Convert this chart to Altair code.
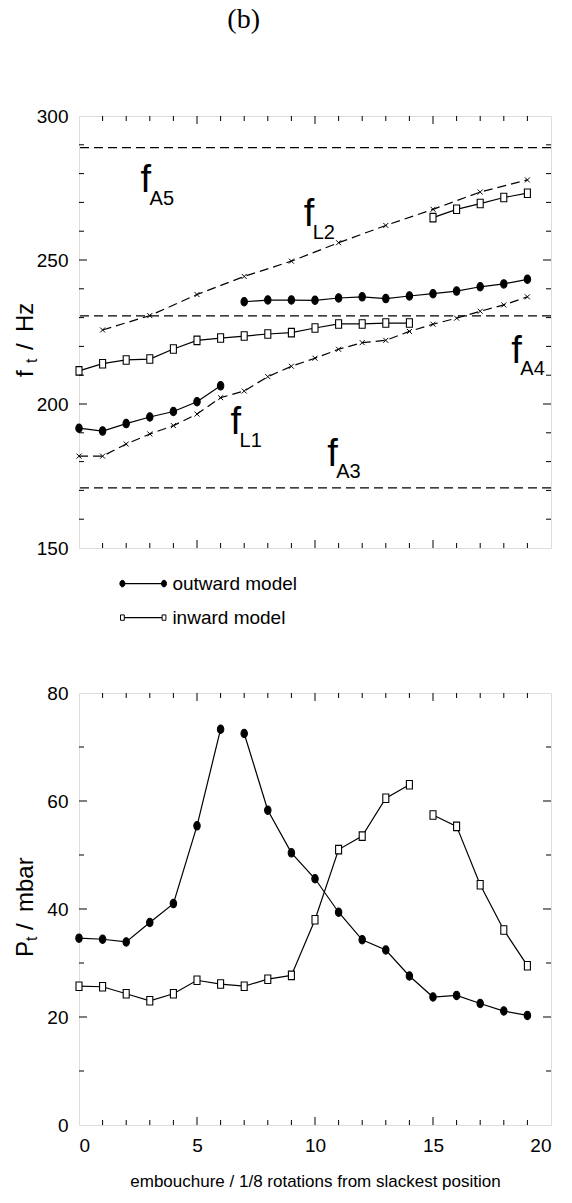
import altair as alt
import pandas as pd

# embouchure setting: 1/8 rotations from the slackest position
steps = list(range(20))

# upper panel: transition frequencies f_t (Hz)
out_f_low = [191.6, 190.6, 193.2, 195.5, 197.4, 200.8, 206.3]                       # steps 0-6
out_f_high = [235.5, 236.1, 236.1, 236.0, 236.8, 237.2, 236.6, 237.5, 238.3,
              239.2, 240.7, 241.7, 243.3]                                            # steps 7-19
in_f_low = [211.5, 214.0, 215.3, 215.6, 219.1, 222.1, 222.9, 223.6, 224.3, 224.8,
            226.4, 227.8, 227.8, 228.1, 228.1]                                       # steps 0-14
in_f_high = [264.7, 267.6, 269.6, 271.7, 273.2]                                      # steps 15-19
lip_f1 = [181.9, 181.9, 186.1, 189.6, 192.5, 196.5, 202.2, 204.5, 209.5, 213.1,
          215.9, 219.0, 221.3, 222.1, 225.2, 227.7, 229.8, 232.2, 234.4, 237.2]
lip_f2_steps = [1, 3, 5, 7, 9, 11, 13, 15, 17, 19]
lip_f2 = [225.7, 230.7, 238.0, 244.3, 249.6, 256.0, 262.0, 267.6, 273.6, 277.8]
air_modes = ["A3", "A4", "A5"]
air_f = [170.9, 230.6, 289.0]

# curve annotations: f with a subscript
note_subs = ["A5", "L2", "L1", "A3", "A4"]
note_x = [2.61, 9.52, 6.42, 10.52, 18.32]
note_y = [273.5, 261.7, 189.5, 178.5, 214.4]

# lower panel: threshold pressure P_t (mbar)
out_p_low = [34.6, 34.4, 33.9, 37.5, 41.0, 55.4, 73.3]
out_p_high = [72.5, 58.3, 50.4, 45.6, 39.4, 34.3, 32.4, 27.6, 23.7, 24.0, 22.5, 21.1, 20.3]
in_p_low = [25.7, 25.6, 24.3, 23.0, 24.3, 26.8, 26.1, 25.7, 27.0, 27.7, 38.0, 51.0,
            53.5, 60.5, 63.0]
in_p_high = [57.4, 55.3, 44.5, 36.1, 29.5]

# tick marks (drawn inward)
x_minor = [i for i in range(1, 20) if i % 5]
x_major = [5, 10, 15]
f_minor = [160, 170, 180, 190, 210, 220, 230, 240, 260, 270, 280, 290]
f_major = [200, 250]
p_minor = [10, 30, 50, 70]
p_major = [20, 40, 60]

SANS = "Liberation Sans, Arial, Helvetica, sans-serif"
SERIF = "Liberation Serif, Times New Roman, serif"

W, H = 472, 432
ELLIPSE = "M0,-1.05A0.8,1.05,0,1,1,0,1.05A0.8,1.05,0,1,1,0,-1.05Z"
RECT = "M-0.6,-0.85H0.6V0.85H-0.6Z"
XMARK = "M-1,-1L1,1M-1,1L1,-1"
DASH = [9, 5]


def segments(parts):
    rows = []
    for seg, (xs, ys) in enumerate(parts):
        for x, y in zip(xs, ys):
            rows.append({"x": x, "y": y, "seg": seg})
    return pd.DataFrame(rows)


def model_layers(df, X, Y, shape, fill, size):
    line = alt.Chart(df).mark_line(color="black", strokeWidth=1.2).encode(
        x=X, y=Y, detail="seg:N")
    pts = alt.Chart(df).mark_point(shape=shape, size=size, fill=fill, stroke="black",
                                   strokeWidth=1.1, opacity=1, fillOpacity=1).encode(x=X, y=Y)
    return [line, pts]


def tick_layers(xvals_minor, xvals_major, yvals_minor, yvals_major, X, Y):
    out = []
    for vals, ln in ((xvals_minor, 5), (xvals_major, 8)):
        d = pd.DataFrame({"x": vals})
        out.append(alt.Chart(d).mark_rule(color="black", strokeWidth=1).encode(
            x=X, y=alt.value(0), y2=alt.value(ln)))
        out.append(alt.Chart(d).mark_rule(color="black", strokeWidth=1).encode(
            x=X, y=alt.value(H), y2=alt.value(H - ln)))
    for vals, ln in ((yvals_minor, 5), (yvals_major, 8)):
        d = pd.DataFrame({"y": vals})
        out.append(alt.Chart(d).mark_rule(color="black", strokeWidth=1).encode(
            y=Y, x=alt.value(0), x2=alt.value(ln)))
        out.append(alt.Chart(d).mark_rule(color="black", strokeWidth=1).encode(
            y=Y, x=alt.value(W), x2=alt.value(W - ln)))
    return out


def label(text, x, y, size, font=SANS, **kw):
    return alt.Chart(pd.DataFrame({"t": [text]})).mark_text(
        fontSize=size, font=font, color="black", **kw).encode(
        x=alt.value(x), y=alt.value(y), text="t:N")


def vtitle(pieces):
    # rotated axis title assembled piece by piece (main text + subscript)
    out = []
    for text, x, y, size in pieces:
        out.append(label(text, x, y, size, angle=270, align="left",
                         baseline="alphabetic"))
    return out


# ---------------- upper panel ----------------
X_TOP = alt.X("x:Q", scale=alt.Scale(domain=[0, 20], nice=False), axis=None)
Y_TOP = alt.Y("y:Q", scale=alt.Scale(domain=[150, 300], nice=False, zero=False),
              axis=alt.Axis(values=[150, 200, 250, 300], ticks=False, domain=False,
                            grid=False, labelPadding=11, title=None, labelFont=SANS,
                            labelFontSize=19, labelColor="black"))

air_df = pd.DataFrame({"mode": air_modes, "y": air_f})
f1_df = pd.DataFrame({"x": steps, "y": lip_f1})
f2_df = pd.DataFrame({"x": lip_f2_steps, "y": lip_f2})
out_f_df = segments([(steps[:7], out_f_low), (steps[7:], out_f_high)])
in_f_df = segments([(steps[:15], in_f_low), (steps[15:], in_f_high)])
note_df = pd.DataFrame({"x": note_x, "y": note_y, "sub": note_subs, "f": ["f"] * 5})

top_layers = [
    alt.Chart(air_df).mark_rule(color="black", strokeWidth=1.3, strokeDash=DASH).encode(y=Y_TOP),
    alt.Chart(f1_df).mark_line(color="black", strokeWidth=1.2, strokeDash=DASH).encode(x=X_TOP, y=Y_TOP),
    alt.Chart(f2_df).mark_line(color="black", strokeWidth=1.2, strokeDash=DASH).encode(x=X_TOP, y=Y_TOP),
    alt.Chart(f1_df).mark_point(shape=XMARK, size=25, stroke="black", strokeWidth=1,
                                filled=False, opacity=1).encode(x=X_TOP, y=Y_TOP),
    alt.Chart(f2_df).mark_point(shape=XMARK, size=25, stroke="black", strokeWidth=1,
                                filled=False, opacity=1).encode(x=X_TOP, y=Y_TOP),
]
top_layers += model_layers(out_f_df, X_TOP, Y_TOP, ELLIPSE, "black", 64)
top_layers += model_layers(in_f_df, X_TOP, Y_TOP, RECT, "white", 100)
top_layers += tick_layers(x_minor, x_major, f_minor, f_major, X_TOP, Y_TOP)
top_layers += [
    alt.Chart(note_df).mark_text(font=SANS, fontSize=38, align="left",
                                 baseline="alphabetic", color="black").encode(
        x=X_TOP, y=Y_TOP, text="f:N"),
    alt.Chart(note_df).mark_text(font=SANS, fontSize=20, align="left",
                                 baseline="alphabetic", color="black", dx=9, dy=12.5).encode(
        x=X_TOP, y=Y_TOP, text="sub:N"),
]
# legend drawn below the upper panel
leg = pd.DataFrame({"k": [0]})
for yy, shape, fill, size, name in ((467.6, ELLIPSE, "black", 40, "outward model"),
                                    (501.6, RECT, "white", 40, "inward model")):
    top_layers.append(alt.Chart(leg).mark_rule(color="black", strokeWidth=1.2).encode(
        x=alt.value(43.4), x2=alt.value(85), y=alt.value(yy)))
    for xx in (43.4, 85):
        top_layers.append(alt.Chart(leg).mark_point(
            shape=shape, size=size, fill=fill, stroke="black", strokeWidth=1,
            opacity=1, fillOpacity=1).encode(x=alt.value(xx), y=alt.value(yy)))
    top_layers.append(label(name, 93.4, yy, 19, align="left", baseline="middle"))
top_layers += vtitle([("f", -46, 261, 24), ("t", -42, 247, 16), ("/", -46, 234, 24),
                      ("Hz", -46, 216, 24)])
top_layers.append(label("(b)", 164.7, -95.7, 28, font=SERIF, align="center",
                        baseline="middle"))

top = alt.layer(*top_layers).properties(width=W, height=H)

# ---------------- lower panel ----------------
X_BOT = alt.X("x:Q", scale=alt.Scale(domain=[0, 20], nice=False),
              axis=alt.Axis(values=[0, 5, 10, 15, 20], ticks=False, domain=False,
                            grid=False, labelPadding=11, labelFont=SANS,
                            labelFontSize=19, labelColor="black",
                            title="embouchure / 1/8 rotations from slackest position",
                            titleFont=SANS, titleFontSize=17, titleFontWeight="normal",
                            titleColor="black", titlePadding=18))
Y_BOT = alt.Y("y:Q", scale=alt.Scale(domain=[0, 80], nice=False),
              axis=alt.Axis(values=[0, 20, 40, 60, 80], ticks=False, domain=False,
                            grid=False, labelPadding=11, title=None, labelFont=SANS,
                            labelFontSize=19, labelColor="black"))

out_p_df = segments([(steps[:7], out_p_low), (steps[7:], out_p_high)])
in_p_df = segments([(steps[:15], in_p_low), (steps[15:], in_p_high)])

bot_layers = []
bot_layers += model_layers(out_p_df, X_BOT, Y_BOT, ELLIPSE, "black", 64)
bot_layers += model_layers(in_p_df, X_BOT, Y_BOT, RECT, "white", 100)
bot_layers += tick_layers(x_minor, x_major, p_minor, p_major, X_BOT, Y_BOT)
bot_layers += vtitle([("P", -46, 264, 24), ("t", -42, 248, 16), ("/", -46, 237, 24),
                      ("mbar", -46, 219, 24)])

bottom = alt.layer(*bot_layers).properties(width=W, height=H)

chart = alt.vconcat(top, bottom, spacing=54).properties(
    padding={"left": 13, "top": 5, "right": 10, "bottom": 5}
).configure_view(stroke="black", strokeWidth=1.5).configure(background="white")

chart.save("out.html", embed_options={"renderer": "svg", "actions": False})
